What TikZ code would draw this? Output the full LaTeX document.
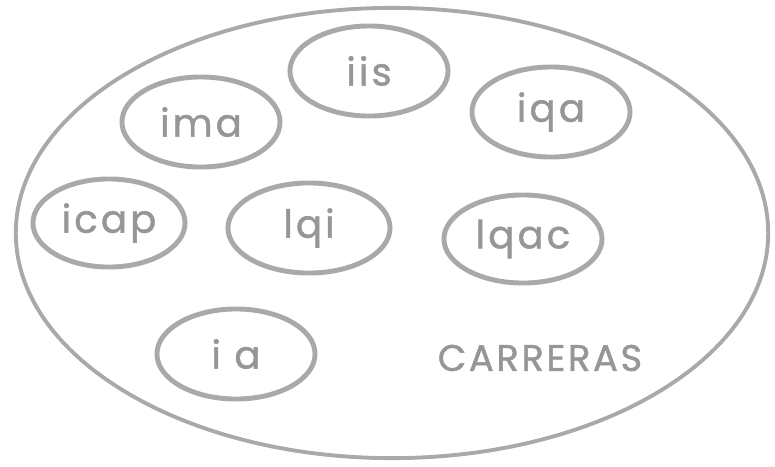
\documentclass[tikz,border=0pt]{standalone}
\usepackage{fontspec}
\setmainfont{Poppins}
\usepackage{xcolor}
\usetikzlibrary{shapes.geometric, positioning}
\definecolor{pencil}{HTML}{A9A9A9}
\definecolor{inkgray}{HTML}{969696}

\begin{document}
\begin{tikzpicture}[x=0.01cm, y=-0.01cm,
        carrera/.style={ellipse, draw=pencil, line width=1.4pt, minimum width=1.58cm, minimum height=0.9cm, inner sep=0pt, text=inkgray, font={\fontsize{11}{13}\selectfont\addfontfeatures{LetterSpace=8, FakeBold=1.2}}},
        conjunto/.style={ellipse, draw=pencil, line width=1.1pt, minimum width=7.52cm, minimum height=4.5cm, inner sep=0pt}
    ]
        \useasboundingbox (0,0) rectangle (775,466);
        % Outer set
        \node (todas) [conjunto] at (392,233) {};
        % Careers
        \node (iis) [carrera] at (369,71) {iis};
        \node (ima) [carrera] at (201,122) {ima};
        \node (iqa) [carrera] at (551,112) {iqa};
        \node (icap) [carrera, minimum width=1.52cm, minimum height=0.88cm] at (109,223) {icap};
        \node (lqi) [carrera, minimum width=1.62cm] at (309,228) {lqi};
        \node (lqac) [carrera, minimum height=0.88cm] at (523,239) {lqac};
        \node (ia) [carrera] at (236,354) {i a};
        % Set label
        \node (titulo) [text=inkgray, font={\fontsize{10.5}{12}\selectfont\addfontfeatures{LetterSpace=7, FakeBold=1.2}}] at (540,358) {CARRERAS};
    \end{tikzpicture}
\end{document}
